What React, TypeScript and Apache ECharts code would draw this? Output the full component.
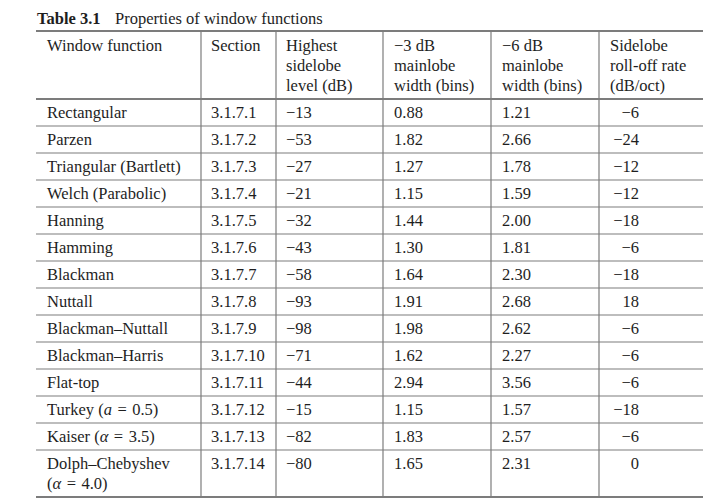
import React, { useEffect, useRef } from "react";
import * as echarts from "echarts";

const titleBold = "Table 3.1";
const titleText = "Properties of window functions";

const headers = [
  "Window function",
  "Section",
  "Highest\nsidelobe\nlevel (dB)",
  "−3 dB\nmainlobe\nwidth (bins)",
  "−6 dB\nmainlobe\nwidth (bins)",
  "Sidelobe\nroll-off rate\n(dB/oct)",
];

const windowNames = [
  "Rectangular",
  "Parzen",
  "Triangular (Bartlett)",
  "Welch (Parabolic)",
  "Hanning",
  "Hamming",
  "Blackman",
  "Nuttall",
  "Blackman–Nuttall",
  "Blackman–Harris",
  "Flat-top",
  "Turkey ({i|a}\u2004=\u20040.5)",
  "Kaiser ({i|α}\u2004=\u20043.5)",
  "Dolph–Chebyshev\n({i|α}\u2004=\u20044.0)",
];

const sections = [
  "3.1.7.1", "3.1.7.2", "3.1.7.3", "3.1.7.4", "3.1.7.5", "3.1.7.6", "3.1.7.7",
  "3.1.7.8", "3.1.7.9", "3.1.7.10", "3.1.7.11", "3.1.7.12", "3.1.7.13", "3.1.7.14",
];

const sidelobeLevels = ["−13", "−53", "−27", "−21", "−32", "−43", "−58", "−93", "−98", "−71", "−44", "−15", "−82", "−80"];
const width3dB = ["0.88", "1.82", "1.27", "1.15", "1.44", "1.30", "1.64", "1.91", "1.98", "1.62", "2.94", "1.15", "1.83", "1.65"];
const width6dB = ["1.21", "2.66", "1.78", "1.59", "2.00", "1.81", "2.30", "2.68", "2.62", "2.27", "3.56", "1.57", "2.57", "2.31"];
const rolloff = ["−6", "−24", "−12", "−12", "−18", "−6", "−18", "18", "−6", "−6", "−6", "−18", "−6", "0"];

export default function App() {
  const ref = useRef<HTMLDivElement>(null);

  useEffect(() => {
    if (!ref.current) return;
    const chart = echarts.init(ref.current, null, { renderer: "svg" });

    const FONT = '"Liberation Serif", "Times New Roman", serif';
    const FS = 16.5;
    const TXT = "#1e1e1e";
    const LINE = "#7c7c7c";
    const left = 36;
    const right = 703;
    const top = 31;
    const headBottom = 99;
    const rowH = 27;
    const lastRowH = 47;
    const colLines = [201, 276, 383, 491, 599];
    const colX = [47, 211, 286, 394, 502, 610];
    const rollRight = 639;
    const nRows = windowNames.length;
    const rowTops: number[] = [];
    for (let i = 0; i < nRows; i++) rowTops.push(headBottom + i * rowH);
    const bottom = rowTops[nRows - 1] + lastRowH;

    const rich = { i: { fontStyle: "italic", fontFamily: FONT, fontSize: FS, fill: TXT } };

    const els: any[] = [];
    const txt = (x: number, y: number, text: string, opts: any = {}) => {
      els.push({
        type: "text",
        x,
        y,
        silent: true,
        style: {
          text,
          fontFamily: FONT,
          fontSize: FS,
          fill: TXT,
          align: opts.align || "left",
          verticalAlign: opts.verticalAlign || "middle",
          lineHeight: 20,
          fontWeight: opts.fontWeight || "normal",
          rich,
        },
      });
    };
    const hline = (y: number, w: number) =>
      els.push({ type: "line", silent: true, shape: { x1: left, y1: y, x2: right, y2: y }, style: { stroke: LINE, lineWidth: w } });

    // title
    txt(37, 18, titleBold, { fontWeight: "bold" });
    txt(115, 18, titleText);

    // horizontal rules
    hline(top, 1.8);
    hline(headBottom, 2.2);
    for (let i = 1; i < nRows; i++) hline(rowTops[i], 1.2);
    hline(bottom, 1.8);
    // vertical rules
    colLines.forEach((x) =>
      els.push({ type: "line", silent: true, shape: { x1: x, y1: top, x2: x, y2: bottom }, style: { stroke: LINE, lineWidth: 1.2 } })
    );

    // header
    headers.forEach((h, c) => txt(colX[c], 35, h, { verticalAlign: "top" }));

    // rows
    for (let r = 0; r < nRows; r++) {
      const isLast = r === nRows - 1;
      const yc = isLast ? rowTops[r] + 13 : rowTops[r] + rowH / 2;
      const yName = isLast ? rowTops[r] + 23 : yc;
      txt(colX[0], yName, windowNames[r]);
      txt(colX[1], yc, sections[r]);
      txt(colX[2], yc, sidelobeLevels[r]);
      txt(colX[3], yc, width3dB[r]);
      txt(colX[4], yc, width6dB[r]);
      txt(rollRight, yc, rolloff[r], { align: "right" });
    }

    chart.setOption({
      animation: false,
      backgroundColor: "#ffffff",
      graphic: { elements: els },
    });

    return () => chart.dispose();
  }, []);

  return (
    <div
      ref={ref}
      style={{ position: "fixed", left: 0, top: 0, width: 720, height: 502, background: "#fff" }}
    />
  );
}
